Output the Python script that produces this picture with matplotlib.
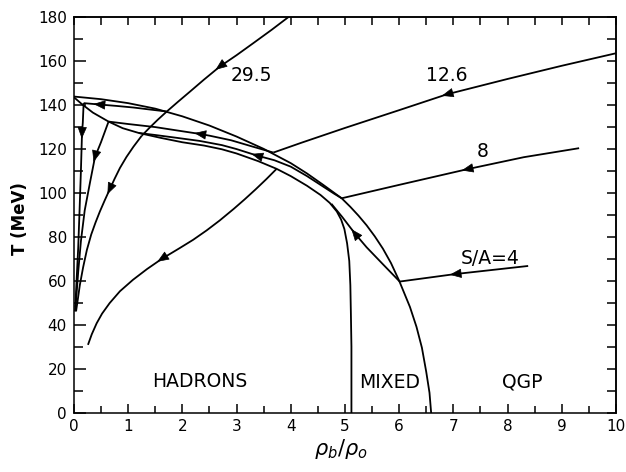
import numpy as np
import matplotlib
matplotlib.use("Agg")
import matplotlib.pyplot as plt

# Phase boundaries (rho_b/rho_0, T in MeV)
outer_x = [0, 0.5, 1.0, 1.5, 2.0, 2.5, 3.0, 3.5, 4.0, 4.3, 4.6, 4.94, 5.1, 5.25,
           5.4, 5.55, 5.7, 5.85, 6.0, 6.2, 6.32, 6.42, 6.5, 6.56, 6.59]
outer_T = [143.8, 142.6, 140.8, 138.3, 134.8, 130.6, 125.6, 120.0, 113.5, 108.8,
           103.6, 97.5, 93.6, 89.6, 85.2, 80.2, 74.6, 68.0, 60.0, 48.0, 39.0,
           29.5, 18.5, 9.0, 0.0]
inner_x = [0, 0.15, 0.35, 0.64, 0.9, 1.2, 1.6, 2.0, 2.4, 2.73, 3.0, 3.4, 3.74, 4.0,
           4.3, 4.55, 4.72, 4.85, 4.93, 4.99, 5.04, 5.08, 5.1, 5.11, 5.12, 5.12]
inner_T = [143.5, 140.3, 136.5, 132.4, 129.4, 127.2, 125.0, 123.0, 121.5, 119.8,
           117.9, 114.4, 110.9, 107.6, 103.2, 99.0, 95.4, 91.5, 87.8, 83.5, 77.0,
           69.0, 58.0, 45.0, 30.0, 0.0]

# Trajectories, ordered in direction of travel; arrow = index of arrowhead
# S/A = 29.5
s29_x = [3.97, 3.65, 3.31, 3.0, 2.69, 2.4, 2.14, 1.92, 1.71, 1.55, 1.40, 1.25]
s29_T = [180.2, 174.2, 168.1, 162.6, 157.4, 151.5, 146.0, 141.4, 136.9, 133.3,
         129.7, 125.9]
s29_mix_x = [1.71, 1.4, 1.1, 0.8, 0.46, 0.18]
s29_mix_T = [137.0, 137.9, 138.8, 139.5, 140.2, 140.8]
s29_had_x = [0.18, 0.165, 0.15, 0.13, 0.105, 0.08, 0.05, 0.03, 0.02]
s29_had_T = [140.8, 132, 127, 110, 92, 75, 60, 50, 46]
# S/A = 12.6
s12_x = [10, 9.0, 8.0, 6.88, 6.0, 5.0, 4.2, 3.68]
s12_T = [163.5, 157.8, 151.8, 144.8, 137.6, 129.5, 122.8, 118.3]
s12_mix_x = [3.68, 3.3, 2.9, 2.5, 2.32, 2.0, 1.5, 1.0, 0.64]
s12_mix_T = [118.3, 121.0, 123.9, 126.0, 126.8, 128.0, 129.9, 131.3, 132.4]
s12_had_x = [0.64, 0.5, 0.39, 0.3, 0.2, 0.13, 0.08, 0.05, 0.03]
s12_had_T = [132.4, 123, 116.3, 105, 92, 78, 64, 54, 48]
# S/A = 8
s8_x = [9.32, 8.3, 7.25, 6.0, 4.94]
s8_T = [120.3, 116.2, 110.7, 103.6, 97.5]
s8_mix_x = [4.94, 4.8, 4.6, 4.3, 4.0, 3.7, 3.37, 3.0, 2.73, 2.32, 1.9, 1.5, 1.2]
s8_mix_T = [97.5, 99.6, 102.8, 107.6, 111.9, 114.8, 117.0, 119.9, 121.7, 123.6,
            125.0, 126.3, 127.2]
s8_had_x = [1.25, 1.1, 0.97, 0.85, 0.75, 0.66, 0.57, 0.48, 0.4, 0.32, 0.24, 0.17,
            0.11, 0.07, 0.04]
s8_had_T = [125.9, 121.0, 116.3, 111.3, 106.3, 101.5, 96.6, 91.5, 86.5, 81.0,
            74.0, 66.0, 58.0, 51.0, 46.0]
# S/A = 4
s4_x = [8.38, 7.03, 6.01]
s4_T = [66.7, 63.0, 59.6]
s4_mix_x = [6.01, 5.7, 5.4, 5.18, 4.95, 4.75]
s4_mix_T = [59.6, 67.5, 75.2, 81.6, 89.0, 95.0]
s4_had_x = [3.74, 3.55, 3.35, 3.15, 2.95, 2.69, 2.45, 2.2, 1.95, 1.62, 1.35, 1.09,
            0.85, 0.66, 0.52, 0.42, 0.33, 0.26]
s4_had_T = [110.9, 106.2, 101.5, 97.0, 92.7, 87.4, 82.9, 78.6, 74.8, 69.9, 65.3,
            60.4, 55.2, 49.8, 45.0, 40.6, 35.6, 30.8]

paths = [
    (s29_x, s29_T, 4), (s29_mix_x, s29_mix_T, 4), (s29_had_x, s29_had_T, 2),
    (s12_x, s12_T, 3), (s12_mix_x, s12_mix_T, 4), (s12_had_x, s12_had_T, 2),
    (s8_x, s8_T, 2), (s8_mix_x, s8_mix_T, 6), (s8_had_x, s8_had_T, 5),
    (s4_x, s4_T, 1), (s4_mix_x, s4_mix_T, 3), (s4_had_x, s4_had_T, 9),
]

labels = ["29.5", "12.6", "8", "S/A=4", "HADRONS", "MIXED", "QGP"]
label_x = [3.27, 6.87, 7.54, 7.68, 2.32, 5.83, 8.28]
label_y = [153.6, 153.2, 119.0, 70.2, 14.2, 13.7, 13.7]

DPI = 100
fig = plt.figure(figsize=(6.26, 4.72), dpi=DPI)
ax = fig.add_axes([0.118, 0.126, 0.866, 0.838])
ax.set_xlim(0, 10)
ax.set_ylim(0, 180)

lw = 1.3
ax.plot(outer_x, outer_T, color="black", lw=lw)
ax.plot(inner_x, inner_T, color="black", lw=lw)


def add_arrow(xs, ys, k):
    pts = ax.transData.transform(np.column_stack([xs, ys]))
    i0 = max(k - 1, 0)
    i1 = min(k + 1, len(xs) - 1)
    d = pts[i1] - pts[i0]
    d = d / np.hypot(d[0], d[1])
    L = 10.5  # pixels
    tip = ax.transData.inverted().transform(pts[k] + d * L / 2)
    off = -d * L * 72 / DPI
    ax.annotate("", xy=tip, xytext=(off[0], off[1]), textcoords="offset points",
                arrowprops=dict(arrowstyle="-|>,head_length=0.75,head_width=0.3",
                                mutation_scale=10, color="black", lw=0.5,
                                shrinkA=0, shrinkB=0))


for xs, ys, k in paths:
    ax.plot(xs, ys, color="black", lw=lw, solid_capstyle="butt")
    add_arrow(xs, ys, k)

for t, x, y in zip(labels, label_x, label_y):
    ax.text(x, y, t, fontsize=13.5, ha="center", va="center")

# ticks
ax.set_xticks(np.arange(0, 11, 1))
ax.set_xticks(np.arange(0, 10.5, 0.5), minor=True)
ax.set_yticks(np.arange(0, 181, 20))
ax.set_yticks(np.arange(0, 181, 10), minor=True)
ax.tick_params(axis="x", which="major", direction="in", length=6.5, width=1.1,
               labelsize=11, pad=5)
ax.tick_params(axis="x", which="minor", direction="in", length=5, width=1.1)
ax.tick_params(axis="y", which="major", direction="in", length=8.5, width=1.1,
               labelsize=11, pad=5)
ax.tick_params(axis="y", which="minor", direction="in", length=6.5, width=1.1)

top = ax.secondary_xaxis("top")
top.set_xticks(np.arange(0, 10.5, 0.5))
top.tick_params(direction="in", length=6, width=1.1, labeltop=False)
right = ax.secondary_yaxis("right")
right.set_yticks(np.arange(0, 181, 10))
right.tick_params(direction="in", length=6.5, width=1.1, labelright=False)
for a in (ax, top, right):
    for s in a.spines.values():
        s.set_linewidth(1.1)

ax.set_ylabel("T (MeV)", fontsize=12, fontweight="bold")
ax.yaxis.set_label_coords(-0.082, 0.49)
ax.set_xlabel(r"$\rho_b/\rho_o$", fontsize=15)
ax.xaxis.set_label_coords(0.493, -0.062)

fig.savefig("out.png", dpi=DPI)
